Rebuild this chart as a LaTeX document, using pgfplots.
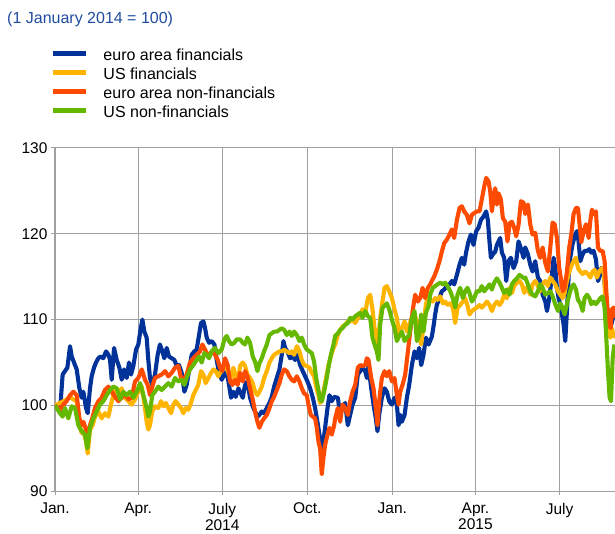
\documentclass[border=0pt]{standalone}
\usepackage{fontspec}
\setmainfont{Liberation Sans}
\usepackage{pgfplots}
\pgfplotsset{compat=1.18}
\definecolor{ecbblue}{RGB}{0,50,153}
\definecolor{ecbyellow}{RGB}{255,180,0}
\definecolor{ecborange}{RGB}{255,75,0}
\definecolor{ecbgreen}{RGB}{101,184,0}
\definecolor{titleblue}{RGB}{30,75,160}
\definecolor{gridgray}{RGB}{160,160,160}
\begin{document}
\begin{tikzpicture}[x=1pt,y=1pt]
\useasboundingbox (0,0) rectangle (615,533);
\node[anchor=base west, inner sep=0pt, text=titleblue, font=\fontsize{16}{19}\selectfont] at (7,509.5) {(1 January 2014 = 100)};
\begin{axis}[
  at={(59.5,48.5)}, anchor=south west,
  scale only axis, width=560pt, height=343.5pt,
  xmin=0, xmax=606, ymin=90, ymax=130,
  axis x line*=bottom, axis y line*=left,
  axis line style={gridgray, line width=1pt, -},
  xtick={0,90,181,273,365,455,546},
  xticklabels={Jan.,Apr.,{July\\2014},Oct.,Jan.,{Apr.\\2015},July},
  xticklabel style={align=center, yshift=-4pt, font=\fontsize{15.5}{16}\selectfont},
  ytick={90,100,110,120,130},
  grid=major, major grid style={gridgray, line width=0.9pt},
  tick style={gridgray, line width=0.9pt},
  tick align=outside, major tick length=4pt,
  tick label style={font=\fontsize{15.5}{17}\selectfont, text=black},
  /pgf/number format/assume math mode=true,
  every axis plot/.append style={line width=4.1pt, line join=round},
  legend cell align=left,
  legend style={at={(axis description cs:0,1)}, anchor=north west,
    yshift=100.7pt, xshift=-4.5pt, draw=none, fill=none,
    inner sep=0pt, outer sep=0pt, row sep=6pt, column sep=15pt,
    font=\fontsize{16}{19}\selectfont,
    nodes={inner sep=0pt, text height=13pt, text depth=0pt}},
  legend image code/.code={\draw[#1, line width=5pt] (0pt,0pt) -- (33pt,0pt);},
]
% euro area financials
\addplot[ecbblue] coordinates {
(0,100) (5.4,99.3) (8.3,103.6) (10.8,104) (13.4,104.4) (16.3,106.9) (18.1,105.7) (20.6,105) (23.5,104.2) (26.4,102) (28.9,100.9) (30.7,101.6) (33.6,99.7) (35.4,99.1) (37.9,102) (39.7,103.4) (42.2,104.4) (44.4,105) (46.9,105.5) (49.5,105.7) (52.3,105.5) (55.2,106.3) (57.8,105.9) (59.6,105.3) (61.4,103) (63.9,106.7) (66.8,105.3) (69.7,104.4) (72.2,103) (74.7,104.2) (77.6,103.2) (80.1,105) (82.3,103.6) (84.8,104.6) (87.7,106.5) (90.2,107.1) (92.8,109) (94.6,110) (96.7,108.6) (99.2,107.9) (101,105.3) (102.8,103.2) (105.3,102.4) (108.2,103.6) (111.1,105.9) (113.6,107.1) (116.2,106.3) (118.3,105.5) (120.9,106.7) (123.4,105.7) (126.3,105.5) (129.2,105.3) (131.7,104.6) (134.2,104.7) (137.1,103.8) (140,101.6) (142.5,102.4) (145,104) (147.9,105.9) (150.8,106.3) (153.3,106.5) (155.9,108.2) (158,109.6) (160.6,109.8) (162.4,109) (164.2,107.9) (166.7,107.3) (169.6,107.5) (172.5,107.1) (175,105.3) (177.5,103.8) (180.4,103) (183.3,103.6) (185.8,104) (188.3,102.4) (190.5,100.9) (193,101.6) (195.6,101) (198.5,102) (200.3,101.6) (203.2,100.9) (205.7,102.4) (208.2,102.8) (211.1,100.9) (214,99.9) (216.5,99.3) (219.1,98.7) (221.2,98.9) (223.8,99.3) (226.3,99.1) (229.2,99.7) (232.1,100.3) (234.6,101) (237.1,102.2) (240,103.2) (242.9,104.2) (245.4,105.9) (247.2,107.5) (249,106.7) (251.5,106.3) (254.4,105.5) (257.3,105.7) (259.8,105.3) (262.4,105.9) (265.3,104.7) (268.1,104) (270.7,103.4) (273.2,102.8) (276.1,102) (279,100.9) (281.5,99.7) (284,98.1) (286.2,96.6) (288.7,95) (290.5,95.8) (292.3,97.4) (294.9,99.7) (297,101.2) (299.5,100.5) (302.1,101) (306.1,100.9) (308.6,98.9) (311.1,99.7) (314,100.3) (316.9,97.7) (319.4,98.9) (322,100.1) (324.9,100.9) (327.7,103.6) (330.3,104) (332.8,104.4) (335.7,104) (337.5,103.2) (339.3,104.6) (342.2,102) (344.7,100.1) (347.2,98.5) (349,97) (350.8,98.9) (353.7,100.9) (356.6,102) (359.1,101.6) (361.7,100.5) (364.6,100.1) (367.4,100.9) (370,100.1) (371.8,97.7) (373.6,98.9) (375.4,98.1) (378.3,98.9) (380.8,100.9) (383.3,102.4) (386.2,104.7) (389.1,106.3) (391.6,105.5) (394.1,106.7) (396.3,104.7) (398.8,105.9) (401.4,107.9) (404.3,107.1) (407.8,108) (409.6,109.2) (411.4,110.6) (413.2,111.7) (416.1,112.5) (418.6,113.3) (421.2,113.5) (424,113.9) (426.9,114.1) (429.5,114.5) (432,114.1) (434.9,115.2) (437.8,116.4) (440.3,117.2) (442.8,116.4) (445,117.9) (447.5,119.1) (450,119.9) (452.9,118.7) (455.8,120.3) (458.3,120.7) (460.9,121.6) (463.7,122) (466.6,122.6) (468.4,121.6) (470.2,119.1) (471.7,117.2) (473.8,117.6) (476.4,117.9) (478.2,118.7) (480,119.1) (481.8,119.5) (483.6,117.8) (486.1,117.2) (488.3,114.5) (490.8,116.8) (493.3,117.2) (496.2,116) (499.1,116.8) (501.6,119.1) (504.2,118.3) (507.1,117.2) (508.9,118.4) (511.8,117.6) (514.3,116.4) (516.8,115.6) (519.7,116.8) (522.6,114.9) (525.1,114.5) (527.7,112.9) (530.6,112.1) (532.4,111) (534.9,112.5) (537.1,114.5) (539.6,117.2) (541.4,116) (543.2,113.7) (545,112.5) (546.8,111.8) (548.6,110.6) (550.4,109.4) (552.2,107.5) (554,111) (555.8,114.9) (557.6,117.2) (560.1,118.8) (563,119.9) (564.8,120.3) (566.6,119.1) (568.5,116.8) (571,117.6) (573.1,118) (575.7,118) (578.2,118.2) (580.4,117.8) (582.9,118) (585.4,117) (587.6,114.5) (589,114.9) (591.2,116) (593.7,115.6) (596.2,112.5) (598.4,110.2) (600.2,109) (602,109.4) (603.8,110.2) (605.6,111.4)
};
\addlegendentry{euro area financials}
% US financials
\addplot[ecbyellow] coordinates {
(0,100) (5.4,100.3) (9,100.5) (12.6,100.7) (16.3,101) (19.9,100.7) (23.5,100.5) (26.4,97.7) (28.9,96.8) (30.7,97) (33.6,95.8) (35.4,94.4) (37.9,97.2) (40.8,97.7) (43.3,98.7) (46.9,99.3) (50.5,98.5) (54.1,99.1) (57.8,98.7) (61.4,100.5) (65,101.8) (68.6,101.4) (72.2,102) (75.8,100.9) (79.4,100.5) (83,100.1) (86.6,100.7) (90.2,101.6) (93.9,102.2) (97.4,99.7) (99.2,98.1) (101,97.2) (102.8,97.7) (105.3,99.3) (108.2,99.9) (111.8,99.7) (114.7,100.5) (117.3,99.9) (119.8,100.3) (122.7,99.7) (125.6,99.1) (128.1,100.1) (130.6,100.5) (133.5,100.1) (136.4,99.7) (138.9,99.1) (141.4,99.7) (144.3,99.5) (147.2,100.3) (149.7,101.2) (152.3,101.8) (155.1,102.4) (158,104) (160.6,103.6) (163.1,102.6) (166,103.2) (168.9,103.8) (171.4,104.2) (173.9,104) (176.8,103.4) (179.7,104) (182.2,104.7) (184.7,104.6) (187.6,103.8) (190.5,103) (193,104.4) (195.6,103.4) (198.5,103.2) (200.3,104.6) (203.2,105) (205.7,104.6) (208.2,103.6) (211.1,103.2) (214,102.6) (216.5,101.6) (219.1,101.2) (221.2,101.6) (223.8,102.2) (226.3,103.2) (229.2,104) (232.1,105) (234.6,105.5) (237.1,105.9) (240,106.1) (242.9,106.3) (245.4,106.3) (248,106.5) (250.8,106.3) (253.7,106.1) (256.2,106.3) (258.8,105.9) (261.7,106.9) (264.5,106.3) (267.1,105.3) (269.6,104.7) (272.5,104.6) (275.4,104.4) (277.9,103.8) (280.4,103.4) (282.6,102.2) (285.1,101.2) (286.9,100.3) (288.7,100.5) (291.2,102) (293.4,103.2) (295.9,104.7) (298.5,105.7) (301.4,106.7) (303.2,107.1) (306.1,108.2) (308.6,108.8) (311.1,109.2) (314,109.4) (316.9,109.8) (319.4,109.8) (322,110) (324.9,109.6) (327.7,110.2) (330.3,110.4) (332.8,111.2) (335.7,110.8) (338.6,112.5) (341.1,112.9) (343.6,111.2) (345.8,109) (347.2,108.6) (349.4,106.7) (351.9,110.2) (354.4,112.1) (356.6,113.7) (359.1,113.9) (361.7,113.3) (364.6,112.5) (367.4,111.2) (370,110.2) (372.5,108.2) (375.4,109) (378.3,109.8) (380.8,108.6) (383.3,109.4) (386.2,110.2) (389.1,110.6) (391.6,109.8) (394.1,108.2) (396.3,107.1) (398.8,109.4) (401.4,111.8) (404.3,112.9) (406,112.3) (408.9,112.1) (411.4,112.5) (413.9,112.3) (416.8,112.7) (419.7,111.9) (422.2,112.1) (424.8,111.7) (427.7,111.9) (430.5,111.4) (433.1,109.6) (435.6,111.4) (438.5,111.7) (441.4,112.1) (443.9,112.5) (446.4,111.6) (448.6,110.6) (451.1,111) (453.6,111.2) (456.5,111.4) (459.4,111.7) (461.9,111.4) (464.5,111.7) (467.4,112.1) (470.2,111.7) (472.8,111) (475.3,111.7) (478.2,112.1) (481.1,111.7) (483.6,112.1) (486.1,112.9) (489,112.5) (491.9,113.7) (494.4,113.1) (496.9,113.9) (499.8,114.3) (502.7,114.5) (505.2,114.1) (507.8,113.1) (508.9,113.7) (511.8,113.5) (514.3,112.9) (516.8,114.1) (519.7,114.5) (522.6,113.9) (525.1,113.3) (527.7,114.1) (530.6,114.5) (533.4,113.9) (536,114.9) (538.5,114.5) (541.4,114.1) (544.3,113.3) (546.8,112.9) (549.3,112.5) (551.5,113.1) (554,114.5) (556.5,115.6) (558.7,116.2) (561.2,116.8) (563.8,117.2) (565.9,116) (568.5,115.6) (571,115.3) (573.9,115.6) (576.8,115.3) (579.3,114.9) (581.8,115.6) (584,115.8) (586.5,114.9) (589,115.6) (591.9,116) (594.1,115.3) (595.5,112.5) (597.3,110.2) (599.1,108.6) (600.9,107.9) (602.7,109) (604.5,108.2) (606.3,107.9)
};
\addlegendentry{US financials}
% euro area non-financials
\addplot[ecborange] coordinates {
(0,100) (5.4,99.5) (9,100.1) (12.6,100.5) (16.3,101.2) (19.9,101.6) (23.5,101.2) (26.4,98.5) (28.9,97.7) (30.7,98.1) (33.6,97.2) (35.4,96.6) (37.9,97.7) (40.8,98.7) (43.3,99.7) (46.9,100.5) (50.5,100.9) (54.1,101.8) (57.8,102.2) (61.4,101.6) (65,101) (68.6,100.5) (72.2,100.9) (75.8,101.4) (79.4,100.7) (83,100.9) (86.6,102.8) (90.2,103.2) (93.9,104.2) (97.4,103) (100.3,102.4) (102.8,101.2) (105.3,102.2) (108.2,103.2) (111.8,103.4) (115.4,103.6) (119.1,104) (122.7,103.4) (126.3,103.8) (129.9,104.4) (133.5,104.6) (136.4,103.2) (138.9,103) (142.5,103.6) (146.1,105) (149.7,105.5) (153.3,105.9) (157,106.3) (159.5,107.1) (162.4,106.5) (166,105.7) (169.6,106.3) (173.2,105.9) (176.1,105.3) (178.6,104.4) (181.1,104) (184,105.5) (186.9,104.7) (189.4,102.8) (192,102.4) (194.8,103) (197.7,102.4) (200.3,103.8) (203.2,102.8) (205.7,104) (208.2,103.4) (211.1,102) (214,100.7) (216.5,99.3) (219.1,98.1) (221.2,97.4) (223.8,98.1) (226.3,98.5) (229.2,98.9) (232.1,99.7) (234.6,100.5) (237.1,101) (240,101.8) (242.9,102.6) (245.4,103.6) (248,104.2) (250.8,104) (253.7,103.4) (256.2,103) (258.8,102.8) (261.7,103.4) (264.5,102.8) (267.1,102) (269.6,101.4) (272.5,101.2) (274.3,100.1) (276.8,98.9) (279,98.7) (281.5,98.5) (283.3,97.4) (285.1,95.8) (286.9,95) (288.7,92) (290.5,93.9) (292.3,95.4) (294.9,96.6) (297,97.4) (299.5,96.6) (302.1,97.7) (303.2,98.5) (306.1,99.7) (308.6,98.1) (311.1,100.1) (314,99.7) (316.9,98.9) (319.4,100.5) (322,101.6) (324.9,102.4) (327.7,104.4) (330.3,104.7) (332.8,104.6) (335.7,104.7) (337.5,105.5) (339.3,105.3) (342.2,103.2) (344.7,102) (347.2,99.7) (349,97.7) (350.8,100.5) (353.7,103.2) (356.6,104) (359.1,103.4) (361.7,104) (364.6,102.8) (367.4,103.2) (370,101.2) (371.8,100.1) (373.6,101.6) (376.1,102.4) (379,103.6) (381.9,106.3) (384.4,108.6) (387,111) (389.8,112.9) (392.7,112.1) (395.2,112.5) (397.8,113.7) (400.6,112.5) (403.5,113.7) (406,114.1) (407.8,114.5) (410.3,115) (413.2,115.8) (416.1,116.8) (418.6,117.9) (421.2,118.9) (424,119.3) (426.9,119.9) (429.5,120.5) (432,119.5) (434.9,121.6) (437.8,123) (440.3,123.2) (442.8,122.6) (445.7,122.2) (448.6,121.2) (451.1,122.2) (453.6,122.4) (456.5,122.6) (459.4,122.6) (461.9,124) (464.5,125.5) (466.6,126.5) (469.2,126.1) (471,124.9) (472.8,122.6) (474.6,124.1) (476.4,125.3) (478.2,123.4) (480,124.7) (482.5,124) (484.7,121.8) (487.2,121.4) (489.7,119.1) (491.9,121.2) (494.4,121.4) (496.9,120.7) (499.1,119.7) (501.6,121) (504.2,123.8) (507.1,123.6) (508.9,122.3) (511.8,123.4) (514.3,121.1) (516.8,119.9) (519.7,120.1) (522.6,118) (525.1,117.2) (527.7,118.4) (530.6,116.6) (533.4,115.6) (536,118.4) (538.5,121.3) (540.7,121.1) (543.2,119.5) (545.7,116) (547.9,114.5) (549.3,113.3) (551.5,113.7) (554,115.6) (556.5,118.4) (558.7,119.9) (561.2,122.3) (563.8,123) (565.9,123) (567.7,121.1) (569.5,119) (572.1,120.3) (574.6,121.1) (577.5,119.5) (579.3,121.5) (581.1,122.8) (582.9,122.3) (585.4,122.6) (587.6,118.4) (590.1,118) (592.6,118) (594.8,116.8) (596.6,113.3) (598.4,110.6) (599.8,109.4) (601.3,109) (602.7,111.2) (604.5,111.4) (606.3,110.2)
};
\addlegendentry{euro area non-financials}
% US non-financials
\addplot[ecbgreen] coordinates {
(0,100) (5.4,99.1) (8.3,98.7) (10.8,99.7) (14.4,98.5) (18.1,99.9) (21.7,99.7) (25.3,97.7) (28.9,97) (32.5,96.6) (35,95) (37.9,97.4) (41.5,98.5) (45.1,99.3) (48.7,100.1) (52.3,100.5) (56,101.2) (59.6,101.8) (63.2,102.2) (66.8,102) (70.4,100.7) (74,101.6) (77.6,101.2) (81.2,101.6) (84.8,100.9) (88.4,101.6) (92.1,102.6) (95.7,101.2) (97.4,100.5) (99.2,99.7) (101,98.7) (102.8,99.3) (105.3,101.2) (108.2,101.6) (111.8,102.2) (115.4,101.8) (119.1,102.2) (122.7,102.6) (126.3,102.2) (129.9,103.2) (133.5,102.8) (137.1,103) (140,102.4) (142.5,103.2) (146.1,104.2) (149.7,104.7) (153.3,105.3) (155.9,105.7) (158.8,105) (161.6,106.1) (164.2,105.9) (166.7,105.5) (169.6,106.3) (173.2,106.7) (176.8,106.1) (180.4,106.5) (183.3,107.7) (185.8,108.1) (188.3,107.5) (191.2,107.1) (194.1,107.3) (196.7,107.7) (200.3,107.7) (203.2,107.3) (205.7,107.1) (208.2,107.9) (211.1,107.3) (214,105.7) (216.5,105.1) (219.1,104) (221.2,104.9) (223.8,105.5) (226.3,106.3) (229.2,107.1) (232.1,108.2) (234.6,108.4) (237.1,108.6) (240,108.6) (242.9,108.8) (245.4,109) (248,108.8) (250.8,108.2) (253.7,108.6) (256.2,108.1) (258.8,108.6) (261.7,108.2) (264.5,107.5) (267.1,107.9) (269.6,107.1) (272.5,106.5) (275.4,106.3) (277.9,106.1) (280.4,105.1) (282.6,103.2) (285.1,101.8) (286.9,100.7) (288.7,100.5) (291.2,101.6) (293.4,102.8) (295.9,104.4) (298.5,105.9) (301.4,107.1) (303.2,108.1) (306.1,108.4) (308.6,108.8) (311.1,109) (314,109.4) (316.9,109.6) (319.4,110.2) (322,110) (324.9,110.4) (327.7,110.6) (330.3,110.8) (332.8,110.2) (335.7,111) (338.6,110.4) (341.1,110.2) (343.6,107.9) (345.8,107.1) (348.3,106.3) (350.1,105.3) (351.9,109.4) (354.4,111.4) (356.6,111.6) (359.1,111.9) (361.7,111.2) (364.6,110) (367.4,109) (370,107.5) (372.5,108.1) (375.4,108.6) (378.3,107.5) (380.8,107.9) (383.3,108.2) (386.2,110.2) (389.1,111) (391.6,107.5) (394.1,108.2) (396.3,110.6) (398.8,108.6) (401.4,110.8) (404.3,111.6) (406,112.9) (408.9,113.7) (411.4,113.9) (413.9,114.1) (416.8,114.3) (419.7,114.1) (422.2,114.3) (424.8,113.9) (427.7,113.3) (430.5,112.5) (433.1,111.4) (435.6,112.9) (438.5,113.7) (441.4,112.5) (443.9,113.3) (446.4,113.7) (448.6,113.1) (451.1,112.1) (453.6,112.5) (456.5,113.3) (459.4,113.3) (461.9,113.9) (464.5,113.3) (467.4,113.7) (470.2,114.1) (472.8,113.5) (475.3,114.3) (478.2,114.8) (481.1,114.3) (483.6,113.7) (486.1,113.1) (489,113.5) (491.9,112.9) (494.4,114.1) (496.9,114.5) (499.8,114.8) (502.7,115.2) (505.2,115) (507.8,114.8) (508.9,114.9) (511.8,114.1) (514.3,113.3) (516.8,112.9) (519.7,112.7) (522.6,113.3) (525.1,114.1) (527.7,113.7) (530.6,112.9) (533.4,113.1) (536,113.3) (538.5,112.7) (541.4,111.8) (544.3,111) (546.8,111.9) (549.3,111.4) (551.5,110.6) (554,111.8) (556.5,112.9) (558.7,113.7) (561.2,114.1) (563.8,113.5) (565.9,112.3) (568.5,111.9) (571,111) (573.1,112.5) (575.7,112.9) (578.2,112.5) (580.4,111.8) (582.9,112.1) (585.4,111.8) (587.6,112.1) (590.1,112.5) (592.6,112.7) (594.8,111.4) (596.6,107.9) (598.4,104) (600.2,100.9) (601.7,100.5) (603.5,105.5) (605.3,107.1)
};
\addlegendentry{US non-financials}
\end{axis}
\end{tikzpicture}
\end{document}
